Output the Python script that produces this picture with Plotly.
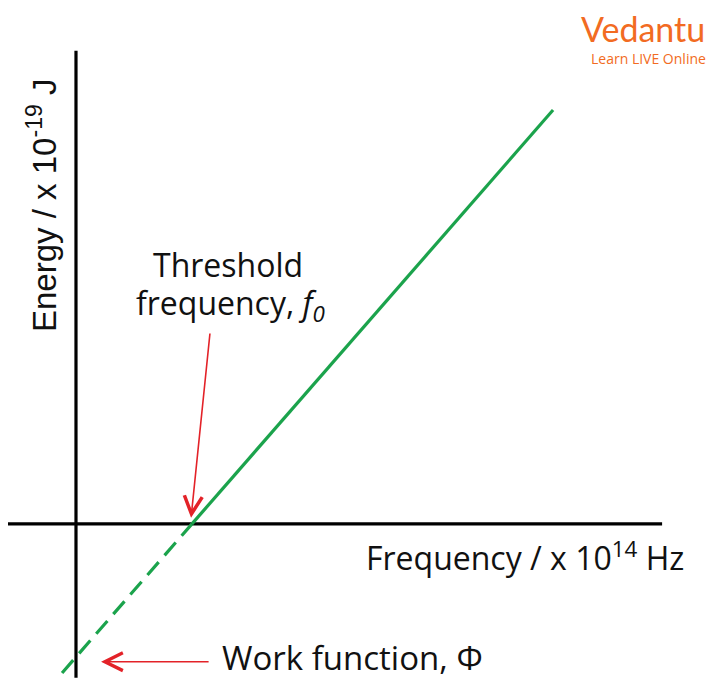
import plotly.graph_objects as go

# schematic photoelectric graph: E = h*f - phi  (units 1e14 Hz, 1e-19 J)
f0 = 5.0          # threshold frequency
phi = 3.3         # work function

# dashed part (below the frequency axis) and solid part of the line
dash_freq = [-0.60, 5.0]
dash_energy = [-3.70, 0.0]
solid_freq = [5.0, 20.56]
solid_energy = [0.0, 10.27]

# axis line extents
x_axis_span = [-2.97, 25.26]
y_axis_span = [-3.82, 11.74]

green = "#1ba34c"
red = "#e32228"
orange = "#f26b22"

# page has an 8px body margin, so paper coords are shifted a bit
def px(x):
    return (x - 8) / 720

def py(y):
    return 1 - (y - 8) / 694

fig = go.Figure()

# axes drawn as plain lines
fig.add_trace(go.Scatter(x=x_axis_span, y=[0, 0], mode="lines",
                         line=dict(color="black", width=3.2), hoverinfo="skip"))
fig.add_trace(go.Scatter(x=[0, 0], y=y_axis_span, mode="lines",
                         line=dict(color="black", width=3.2), hoverinfo="skip"))

# the E-f line
fig.add_trace(go.Scatter(x=dash_freq, y=dash_energy, mode="lines",
                         line=dict(color=green, width=3.2, dash="17px,9px")))
fig.add_trace(go.Scatter(x=solid_freq, y=solid_energy, mode="lines",
                         line=dict(color=green, width=3.2)))

# red pointer arrows
fig.add_annotation(x=4.96, y=0.15, ax=5.78, ay=4.76,
                   xref="x", yref="y", axref="x", ayref="y",
                   showarrow=True, arrowhead=5, arrowsize=2.2, arrowwidth=1.6,
                   arrowcolor=red, text="")
fig.add_annotation(x=1.08, y=-3.42, ax=5.78, ay=-3.42,
                   xref="x", yref="y", axref="x", ayref="y",
                   showarrow=True, arrowhead=5, arrowsize=2.2, arrowwidth=1.6,
                   arrowcolor=red, text="")

txt = dict(family="Open Sans", color="#111111")
common = dict(xref="paper", yref="paper", showarrow=False, yanchor="middle")

fig.add_annotation(x=px(228), y=py(265), xanchor="center", text="Threshold",
                   font=dict(size=32, **txt), **common)
fig.add_annotation(x=px(230), y=py(305), xanchor="center",
                   text="frequency, <i>f</i><sub><i>0</i></sub>",
                   font=dict(size=32, **txt), **common)
fig.add_annotation(x=px(686), y=py(556), xanchor="right",
                   text="Frequency / x 10<sup>14</sup> Hz",
                   font=dict(size=32, **txt), **common)
fig.add_annotation(x=px(220), y=py(657), xanchor="left",
                   text="Work function, Φ",
                   font=dict(size=33, **txt), **common)
fig.add_annotation(x=px(42), y=py(205), xanchor="center",
                   text="Energy / x 10<sup>-19</sup> J", textangle=-90,
                   font=dict(family="Liberation Sans", size=33, color="#111111"),
                   **common)

# logo
fig.add_annotation(x=px(643), y=py(29), xanchor="center", text="Vedantu",
                   font=dict(family="Lato", size=34, color=orange), **common)
fig.add_annotation(x=px(648), y=py(58), xanchor="center", text="Learn LIVE Online",
                   font=dict(family="Open Sans", size=14, color=orange), **common)

fig.update_layout(
    width=720, height=694,
    margin=dict(l=0, r=0, t=0, b=0),
    showlegend=False,
    plot_bgcolor="white", paper_bgcolor="white",
    xaxis=dict(visible=False, range=[-2.93, 28.10]),
    yaxis=dict(visible=False, range=[-4.42, 12.80]),
)

fig.write_html("out.html")
